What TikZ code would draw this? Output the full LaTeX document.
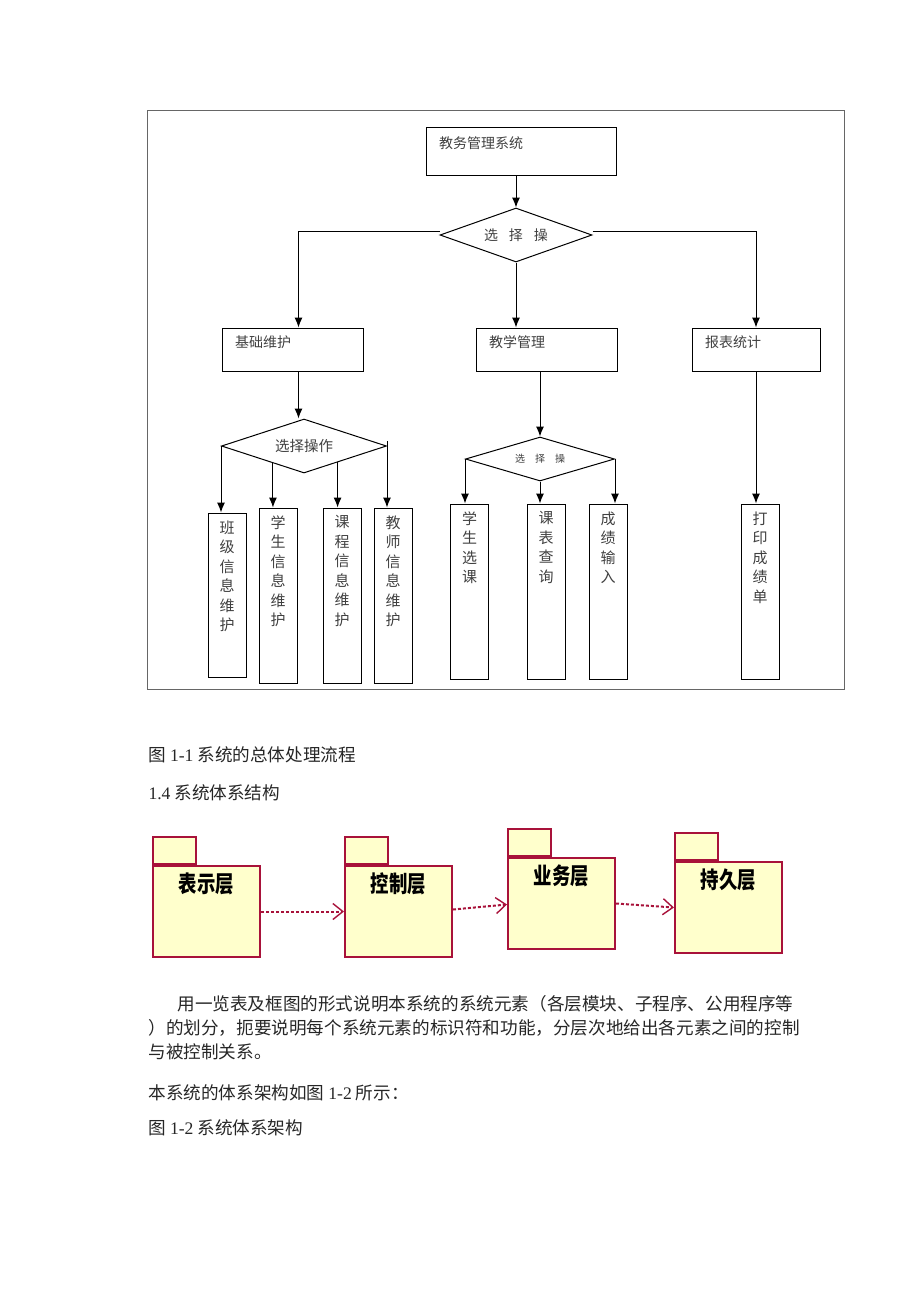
\documentclass[tikz,border=0pt]{standalone}
\usepackage{fontspec}
\setmainfont{Liberation Serif}
\newfontfamily\cjk{Noto Sans CJK SC}
\usepackage{xcolor}
\usepackage{graphicx}
\usepackage{tikz}
\usetikzlibrary{shapes,arrows,arrows.meta,positioning,calc}
\definecolor{pkgred}{RGB}{168,18,58}
\definecolor{pkgfill}{RGB}{255,255,204}
\newcommand{\hcell}[4]{\parbox[c][#2][t]{#1}{\vspace{#3}\hspace*{6.5pt}#4}}
\newcommand{\vcell}[2]{\parbox[c][#1][t]{19pt}{\centering\vspace{3.75pt}#2}}
\newcommand{\pcell}[1]{\parbox[c][45.5pt][t]{53.5pt}{\centering\vspace{3.5pt}\scalebox{0.8}[1]{#1}}}

\begin{document}
\begin{tikzpicture}[x=0.5pt,y=-0.5pt,>={Latex[length=5pt,width=4pt]},line width=0.5pt,font=\cjk\fontsize{7}{8.4}\selectfont]
  \tikzstyle{hbox}=[draw,inner sep=0,text=black!75]
  \tikzstyle{vbox}=[draw,inner sep=0,text=black!75,font=\cjk\fontsize{7.5}{9.75}\selectfont]
  \tikzstyle{choice}=[draw,diamond,aspect=3,inner sep=0,text=black!75]
  \tikzstyle{arr}=[->]
  \tikzstyle{pkg}=[draw=pkgred,fill=pkgfill,line width=1pt,inner sep=0,font=\cjk\bfseries\fontsize{11.5}{13}\selectfont]
  \tikzstyle{pkgtab}=[draw=pkgred,fill=pkgfill,line width=1pt,minimum width=21.5pt,minimum height=13.5pt,inner sep=0]
  \tikzstyle{dep}=[draw=pkgred,line width=1pt,dash pattern=on 1.5pt off 1pt,-{Straight Barb[length=5pt,width=8pt,line width=0.7pt]}]
  \tikzstyle{txt}=[anchor=west,inner sep=0,text=black!85,font=\cjk\fontsize{8.8}{10}\selectfont]

  \useasboundingbox (0,0) rectangle (920,1302);
  \draw[black!60] (147,110) rectangle (844,689);

  \node[hbox] (jwgl) at (521,151) {\hcell{95pt}{24pt}{5pt}{教务管理系统}};
  \node[choice,minimum width=76pt,minimum height=27pt] (sel1) at (516,235) {选\hspace{5.5pt}择\hspace{5.5pt}操};

  \node[hbox] (jcwh) at (292.5,349.5) {\hcell{70.5pt}{21.5pt}{4pt}{基础维护}};
  \node[hbox] (jxgl) at (546.5,349.5) {\hcell{70.5pt}{21.5pt}{4pt}{教学管理}};
  \node[hbox] (bbtj) at (756,349.5) {\hcell{64pt}{21.5pt}{4pt}{报表统计}};

  \node[choice,minimum width=82.5pt,minimum height=27pt,font=\cjk\fontsize{7.25}{8.4}\selectfont] (sel2) at (304,446) {选择操作};
  \node[choice,minimum width=74.5pt,minimum height=22pt,font=\cjk\fontsize{5}{6}\selectfont] (sel3) at (540,459) {选\hspace{5pt}择\hspace{5pt}操};

  \node[vbox] (bjxx) at (227,595) {\vcell{82pt}{班\\级\\信\\息\\维\\护}};
  \node[vbox] (xsxx) at (278,595.5) {\vcell{87.5pt}{学\\生\\信\\息\\维\\护}};
  \node[vbox] (kcxx) at (342,595.5) {\vcell{87.5pt}{课\\程\\信\\息\\维\\护}};
  \node[vbox] (jsxx) at (393,595.5) {\vcell{87.5pt}{教\\师\\信\\息\\维\\护}};
  \node[vbox] (xsxk) at (469.5,591.5) {\vcell{87.5pt}{学\\生\\选\\课}};
  \node[vbox] (kbcx) at (546,591.5) {\vcell{87.5pt}{课\\表\\查\\询}};
  \node[vbox] (cjsr) at (608,591.5) {\vcell{87.5pt}{成\\绩\\输\\入}};
  \node[vbox] (dycjd) at (760,591.5) {\vcell{87.5pt}{打\\印\\成\\绩\\单}};

  \draw[arr] (jwgl.south -| sel1.north) -- (sel1.north);
  \draw[arr] ([yshift=2pt]sel1.west) -| ([xshift=3pt]jcwh.north);
  \draw[arr] (sel1.south) -- (sel1.south |- jxgl.north);
  \draw[arr] ([yshift=2pt]sel1.east) -| (bbtj.north);
  \draw[arr] ([xshift=3pt]jcwh.south) -- ([xshift=3pt]jcwh.south |- sel2.north);
  \draw[arr] (sel2.west) -- (sel2.west |- bjxx.north);
  \draw[arr] (sel2.-151) -- (sel2.-151 |- xsxx.north);
  \draw[arr] (sel2.-26) -- (sel2.-26 |- kcxx.north);
  \draw[arr] ([yshift=2.5pt]sel2.east) -- (sel2.east |- jsxx.north);
  \draw[arr] (jxgl.south -| sel3.north) -- (sel3.north);
  \draw[arr] (sel3.west) -- (sel3.west |- xsxk.north);
  \draw[arr] (sel3.south) -- (sel3.south |- kbcx.north);
  \draw[arr] (sel3.east) -- (sel3.east |- cjsr.north);
  \draw[arr] (bbtj.south) -- (bbtj.south |- dycjd.north);

  \node[txt] (cap1) at (148,755) {图 {\rmfamily 1-1} 系统的总体处理流程};
  \node[txt] (sec) at (148,793) {{\rmfamily 1.4} 系统体系结构};

  \node[pkg] (bsc) at (206.5,911.5) {\pcell{表示层}};
  \node[pkgtab,anchor=south west] (bsctab) at (bsc.north west) {};
  \node[pkg] (kzc) at (398.5,911.5) {\pcell{控制层}};
  \node[pkgtab,anchor=south west] (kzctab) at (kzc.north west) {};
  \node[pkg] (ywc) at (561.5,903.5) {\pcell{业务层}};
  \node[pkgtab,anchor=south west] (ywctab) at (ywc.north west) {};
  \node[pkg] (cjc) at (728.5,907.5) {\pcell{持久层}};
  \node[pkgtab,anchor=south west] (cjctab) at (cjc.north west) {};

  \draw[dep] (bsc) -- (kzc);
  \draw[dep] ([yshift=1pt]kzc.east) -- ([yshift=-0.5pt]ywc.west);
  \draw[dep] (ywc.east) -- (cjc.west);

  \node[txt] (par1) at (177,1004) {用一览表及框图的形式说明本系统的系统元素（各层模块、子程序、公用程序等};
  \node[txt] (par2) at (148,1028) {）的划分，扼要说明每个系统元素的标识符和功能，分层次地给出各元素之间的控制};
  \node[txt] (par3) at (148,1052) {与被控制关系。};
  \node[txt] (ref) at (148,1093) {本系统的体系架构如图 {\rmfamily 1-2} 所示：};
  \node[txt] (cap2) at (148,1128) {图 {\rmfamily 1-2} 系统体系架构};
\end{tikzpicture}
\end{document}
